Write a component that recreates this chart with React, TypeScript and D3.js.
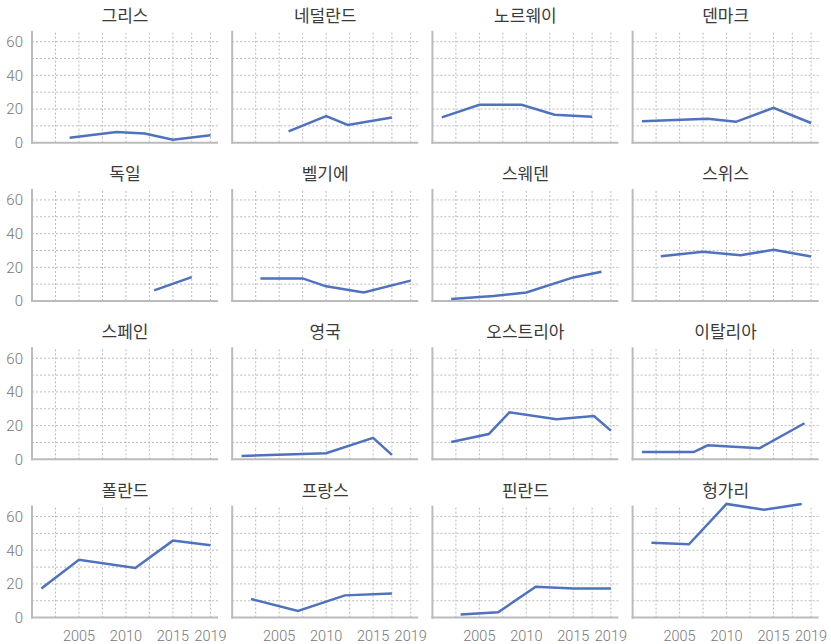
import * as d3 from 'd3'

const countries = ['그리스', '네덜란드', '노르웨이', '덴마크', '독일', '벨기에', '스웨덴', '스위스',
  '스페인', '영국', '오스트리아', '이탈리아', '폴란드', '프랑스', '핀란드', '헝가리']

// survey years and values for each country, same order as above
const years = [
  [2004, 2009, 2012, 2015, 2019],
  [2006, 2010, 2012.3, 2017],
  [2001, 2005, 2009.5, 2013, 2017],
  [2001, 2008, 2011, 2015, 2019],
  [2013, 2017],
  [2003, 2007.5, 2010, 2014, 2019],
  [2002, 2006.5, 2010, 2015, 2018],
  [2003, 2007.5, 2011.5, 2015, 2019],
  [],
  [2001, 2010, 2015, 2017],
  [2002, 2006, 2008.2, 2013.2, 2017.2, 2019],
  [2001, 2006.5, 2008, 2013.5, 2018.3],
  [2001, 2005, 2011, 2015, 2019],
  [2002, 2007, 2012, 2017],
  [2003, 2007, 2011, 2015, 2019],
  [2002, 2006, 2010, 2014, 2018],
]
const values = [
  [3.0, 6.3, 5.5, 1.8, 4.4],
  [6.7, 15.8, 10.5, 15.0],
  [15.0, 22.5, 22.5, 16.6, 15.4],
  [12.7, 14.2, 12.4, 20.7, 11.7],
  [6.3, 14.2],
  [13.4, 13.4, 8.7, 5.0, 12.1],
  [1.2, 3.0, 5.1, 14.0, 17.4],
  [26.6, 29.2, 27.2, 30.4, 26.4],
  [],
  [2.0, 3.6, 12.7, 2.6],
  [10.3, 15.0, 27.9, 23.8, 25.7, 17.0],
  [4.3, 4.3, 8.3, 6.5, 21.4],
  [17.3, 34.3, 29.5, 45.7, 42.9],
  [11.0, 4.0, 13.2, 14.3],
  [1.8, 3.2, 18.3, 17.3, 17.3],
  [44.5, 43.5, 67.5, 64.0, 67.5],
]

const yTicks = [0, 20, 40, 60]
const yGrid = [10, 20, 30, 40, 50, 60]
const xTicks = [2005, 2010, 2015, 2019]
const xGrid = [2002.5, 2005, 2007.5, 2010, 2012.5, 2015, 2017, 2019]

const W = 831
const H = 644
const colStep = 200.2
const rowStep = 158.3
const panelW = 186
const panelH = 112

const Panel = ({i}: {i: number}) => {
  const col = i % 4
  const row = Math.floor(i / 4)
  const x0 = 32 + col * colStep
  const y0 = 142.7 + row * rowStep

  const x = d3.scaleLinear().domain([2000, 2019.8]).range([x0, x0 + panelW])
  const y = d3.scaleLinear().domain([0, 66.5]).range([y0, y0 - panelH])

  const pts = years[i].map((yr, k) => [yr, values[i][k]] as [number, number])
  const line = d3.line<[number, number]>()
    .x((d) => x(d[0]))
    .y((d) => y(d[1]))

  return (
    <g>
      {yGrid.map((v) => (
        <line key={'h' + v} x1={x0} x2={x0 + panelW} y1={y(v)} y2={y(v)}
              stroke="#bbb" strokeWidth={1} strokeDasharray="2,2"/>
      ))}
      {xGrid.map((v) => (
        <line key={'v' + v} x1={x(v)} x2={x(v)} y1={y0} y2={y0 - panelH}
              stroke="#bbb" strokeWidth={1} strokeDasharray="2,2"/>
      ))}
      <line x1={x0} x2={x0} y1={y0 - panelH} y2={y0 + 1} stroke="#bbb" strokeWidth={2}/>
      <line x1={x0 - 1} x2={x0 + panelW} y1={y0} y2={y0} stroke="#bbb" strokeWidth={2}/>
      {pts.length > 0 && (
        <path d={line(pts) || ''} fill="none" stroke="#4e72bd" strokeWidth={2.5}/>
      )}
      <text x={x0 + panelW / 2} y={y0 - panelH - 9} textAnchor="middle"
            fontSize={17} fill="#3a3a3a" fontFamily="'Noto Sans CJK KR', sans-serif">
        {countries[i]}
      </text>
      {col === 0 && yTicks.map((v) => (
        <text key={'yt' + v} x={x0 - 9} y={y(v)} dy="0.36em" textAnchor="end"
              fontSize={15} fontWeight={300} fill="#777" fontFamily="Roboto, sans-serif">{v}</text>
      ))}
      {row === 3 && xTicks.map((v) => (
        <text key={'xt' + v} x={x(v)} y={641} textAnchor="middle"
              fontSize={14.5} fontWeight={300} fill="#777" fontFamily="Roboto, sans-serif">{v}</text>
      ))}
    </g>
  )
}

const App = () => {
  return (
    <svg width={W} height={H} style={{position: 'absolute', left: 0, top: 0, background: '#fff'}}>
      {countries.map((c, i) => <Panel key={c} i={i}/>)}
    </svg>
  )
}

export default App
